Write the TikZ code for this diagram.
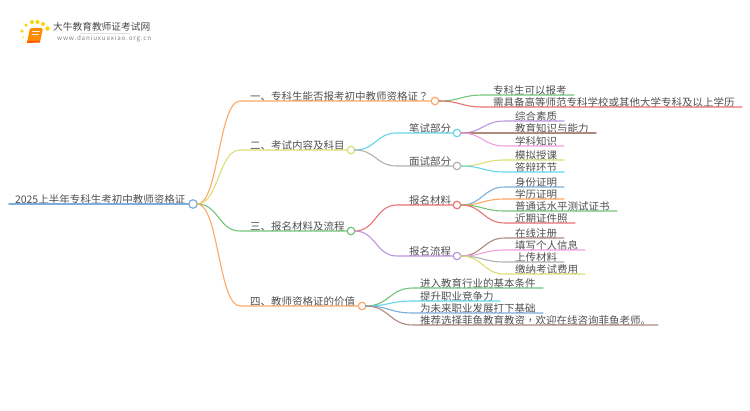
\documentclass[tikz,border=0pt]{standalone}
\usepackage{fontspec}
\setmainfont{Noto Sans CJK SC}
\newfontfamily\tcfont{Noto Sans CJK TC}
\usetikzlibrary{calc}
\definecolor{cblue}{HTML}{7CAEDB}
\definecolor{corange}{HTML}{FFA766}
\definecolor{cyellow}{HTML}{DDDD77}
\definecolor{cgreen}{HTML}{72C47A}
\definecolor{cred}{HTML}{E97272}
\definecolor{ccyan}{HTML}{62D6E8}
\definecolor{cgray}{HTML}{B0B0B0}
\definecolor{cpurple}{HTML}{BC95DF}
\definecolor{cbrown}{HTML}{AD8A80}
\definecolor{cpink}{HTML}{F29FDD}
\definecolor{ctext}{HTML}{505050}
\tikzset{
  lab/.style={inner sep=0pt,outer sep=0pt,text height=9pt,text depth=0.4pt,font=\fontsize{10.5}{12}\selectfont,text=ctext},
  dot/.style={circle,draw=#1,fill=white,line width=1.2pt,minimum size=7.5pt,inner sep=0pt,outer sep=0pt},
  conn/.style={line width=1.1pt,line cap=round},
  spark/.style={circle,fill=#1,inner sep=0pt,outer sep=0pt}
}
\newcommand\lab[6]{\node[lab,anchor=south west] (#1) at (#2,#4) {\makebox[\dimexpr #3pt-#2pt\relax][l]{\hspace{#5pt}#6}};}
\newcommand\link[3]{\draw[conn,#1] (#2.east) .. controls ($(#2.east)!.5!(#3.south west |- #2.east)$) and ($(#3.south west)!.5!(#2.east |- #3.south west)$) .. (#3.south west) -- (#3.south east);}
\begin{document}
\begin{tikzpicture}[x=1pt,y=-1pt]
\useasboundingbox (0,0) rectangle (750,410);
% logo
\node[spark=yellow!70!orange,minimum size=3.5pt] (s1) at (22,31) {};
\node[spark=yellow!70!orange,minimum size=3.5pt] (s2) at (26,25) {};
\node[spark=yellow!70!orange,minimum size=4pt] (s3) at (32,22) {};
\node[spark=yellow!70!orange,minimum size=4pt] (s4) at (37.5,22) {};
\node[spark=yellow!70!orange,minimum size=4pt] (s5) at (43,24) {};
\node[spark=yellow!70!orange,minimum size=4.5pt] (s6) at (47.5,28.5) {};
\node[spark=yellow!50!white,minimum size=3pt] (s7) at (23,37) {};
\node[spark=yellow!40!white,minimum size=2.5pt] (s8) at (23.5,43) {};
\fill[orange!90!yellow,rounded corners=1.5pt] (30,28) -- (43,28) -- (40,42) -- (27,42.5) -- cycle;
\fill[orange!70!red] (27,41) -- (40,40.5) -- (40,42.5) -- (27,43) -- cycle;
\draw[white!85!orange,line width=.8pt] (32,31.5) -- (39.5,31.5) (31.5,34) -- (39,34);
\node[inner sep=0pt,anchor=west,text=black!72,font=\fontsize{9.7}{11}\selectfont] (title) at (53,27) {大牛教育教师证考试网};
\node[inner sep=0pt,anchor=west,text=black!50,font=\fontsize{6.3}{8}\selectfont] (url) at (57,39) {\addfontfeature{LetterSpace=13}www.daniuxuexiao.org.cn};
\draw[black!12,line width=.5pt] (80,33.5) -- (130,33.5);
% circles
\node[dot=cblue,minimum size=8.5pt] (root) at (193,204) {};
\node[dot=corange] (b1) at (435,101) {};
\node[dot=cyellow] (b2) at (351,150) {};
\node[dot=cgreen] (b3) at (351,231) {};
\node[dot=corange] (b4) at (362,306) {};
\node[dot=ccyan] (s21) at (457,133) {};
\node[dot=cgray] (s22) at (457,166) {};
\node[dot=cred] (s31) at (457,205) {};
\node[dot=cpurple] (s32) at (457,256) {};
% labels
\lab{rt}{9}{188.7}{204}{6}{2025上半年专科生考初中教师资格证}
\lab{t1}{240}{431.2}{101}{10}{一、专科生能否报考初中教师资格证{\tcfont ？}}
\lab{t2}{240}{347.2}{150}{10}{二、考试内容及科目}
\lab{t3}{240}{347.2}{231}{10}{三、报名材料及流程}
\lab{t4}{240}{358.2}{306}{10}{四、教师资格证的价值}
\lab{u21}{397}{453.2}{133}{12}{笔试部分}
\lab{u22}{397}{453.2}{166}{12}{面试部分}
\lab{u31}{397}{453.2}{205}{12}{报名材料}
\lab{u32}{397}{453.2}{256}{12}{报名流程}
\lab{a1}{483}{574}{95}{10}{专科生可以报考}
\lab{a2}{483}{742}{107}{10}{需具备高等师范专科学校或其他大学专科及以上学历}
\lab{c1}{505}{564}{121}{10}{综合素质}
\lab{c2}{505}{596}{133}{10}{教育知识与能力}
\lab{c3}{505}{564}{146}{10}{学科知识}
\lab{d1}{505}{564}{160}{10}{模拟授课}
\lab{d2}{505}{564}{172}{10}{答辩环节}
\lab{e1}{505}{564}{187}{10}{身份证明}
\lab{e2}{505}{564}{199}{10}{学历证明}
\lab{e3}{505}{617}{211}{10}{普通话水平测试证书}
\lab{e4}{505}{575}{223}{10}{近期证件照}
\lab{f1}{505}{564}{238}{10}{在线注册}
\lab{f2}{505}{585}{250}{10}{填写个人信息}
\lab{f3}{505}{564}{262}{10}{上传材料}
\lab{f4}{505}{585}{274}{10}{缴纳考试费用}
\lab{g1}{413}{543}{288}{7}{进入教育行业的基本条件}
\lab{g2}{413}{500}{301}{7}{提升职业竞争力}
\lab{g3}{413}{543}{313}{7}{为未来职业发展打下基础}
\lab{g4}{413}{658}{325}{7}{推荐选择菲鱼教育教资{\tcfont ，}欢迎在线咨询菲鱼老师。}
% connectors
\draw[conn,cblue,line width=1.4pt] (rt.south west) -- (rt.south east);
\link{corange}{root}{t1}
\link{cyellow}{root}{t2}
\link{cgreen}{root}{t3}
\link{corange}{root}{t4}
\link{cgreen}{b1}{a1}
\link{cred}{b1}{a2}
\link{ccyan}{b2}{u21}
\link{cgray}{b2}{u22}
\link{cred}{b3}{u31}
\link{cpurple}{b3}{u32}
\link{cpurple}{s21}{c1}
\link{cbrown}{s21}{c2}
\link{cpink}{s21}{c3}
\link{cyellow}{s22}{d1}
\link{ccyan}{s22}{d2}
\link{cblue}{s31}{e1}
\link{corange}{s31}{e2}
\link{cgreen}{s31}{e3}
\link{cred}{s31}{e4}
\link{cbrown}{s32}{f1}
\link{cpink}{s32}{f2}
\link{cgray}{s32}{f3}
\link{cyellow}{s32}{f4}
\link{cgreen}{b4}{g1}
\link{ccyan}{b4}{g2}
\link{cblue}{b4}{g3}
\link{cbrown}{b4}{g4}
\end{tikzpicture}
\end{document}
